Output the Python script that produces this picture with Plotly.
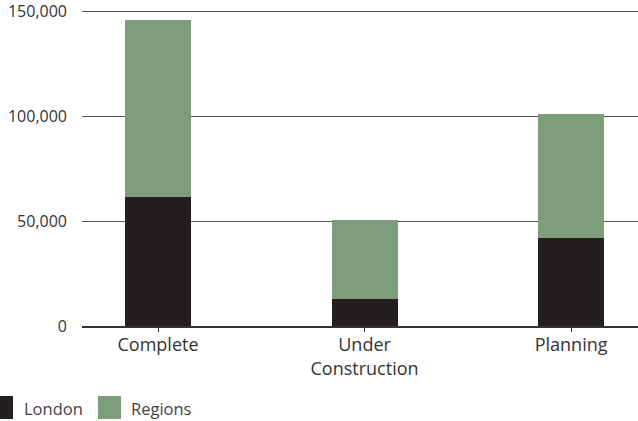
import plotly.graph_objects as go

categories = ["Complete", "Under<br>Construction", "Planning"]
london = [61500, 12700, 41900]
regions = [84400, 37800, 59100]
series_names = ["London", "Regions"]
colors = ["#231F20", "#7E9D7B"]
y_ticks = [0, 50000, 100000, 150000]
y_ticktext = ["0", "50,000", "100,000", "150,000"]

W, H = 638, 421
ML, MR, MT, MB = 82, 0, 9, 95
PW, PH = W - ML - MR, H - MT - MB
Y_TOP = 150000 * PH / (PH - 2)  # leave 2px headroom so the top gridline shows

fig = go.Figure()
for name, vals, c in zip(series_names, [london, regions], colors):
    fig.add_trace(go.Bar(x=list(range(len(categories))), y=vals, name=name,
                         marker=dict(color=c, line=dict(width=0)), width=0.32,
                         showlegend=False))

FONT = "'Open Sans', 'Noto Sans', sans-serif"
fig.update_layout(
    width=W, height=H, barmode="stack",
    margin=dict(l=ML, r=MR, t=MT, b=MB, pad=0),
    paper_bgcolor="white", plot_bgcolor="white",
    font=dict(family=FONT, color="#333333"),
    xaxis=dict(range=[-0.368, 2.324], tickmode="array",
               tickvals=list(range(len(categories))), ticktext=categories,
               showgrid=False, zeroline=False, showline=True, linecolor="#333333",
               linewidth=1.5, ticks="outside", ticklen=4, tickcolor="#333333",
               tickwidth=1, tickfont=dict(size=18, color="#333333"),
               ticklabelstandoff=-2),
    yaxis=dict(range=[0, Y_TOP], tickmode="array", tickvals=y_ticks,
               ticktext=y_ticktext, showgrid=True, gridcolor="#555555",
               gridwidth=1.3, zeroline=False, showline=False,
               ticklabeloverflow="allow",
               tickfont=dict(size=16, color="#333333"), ticklabelstandoff=14),
)

def px_x(p):
    return (p - ML) / PW

def px_y(p):
    return (H - MB - p) / PH

# legend drawn manually
legend_items = [(-10, 13, 22), (98, 121, 129)]
for (x0, x1, tx), name, c in zip(legend_items, series_names, colors):
    fig.add_shape(type="rect", xref="paper", yref="paper",
                  x0=px_x(x0), x1=px_x(x1), y0=px_y(419), y1=px_y(396),
                  fillcolor=c, line=dict(width=0))
    fig.add_annotation(xref="paper", yref="paper", x=px_x(tx), y=px_y(408),
                       text=name, showarrow=False, xanchor="left", yanchor="middle",
                       font=dict(size=16.5, color="#444444", family=FONT))

fig.write_html("out.html")
